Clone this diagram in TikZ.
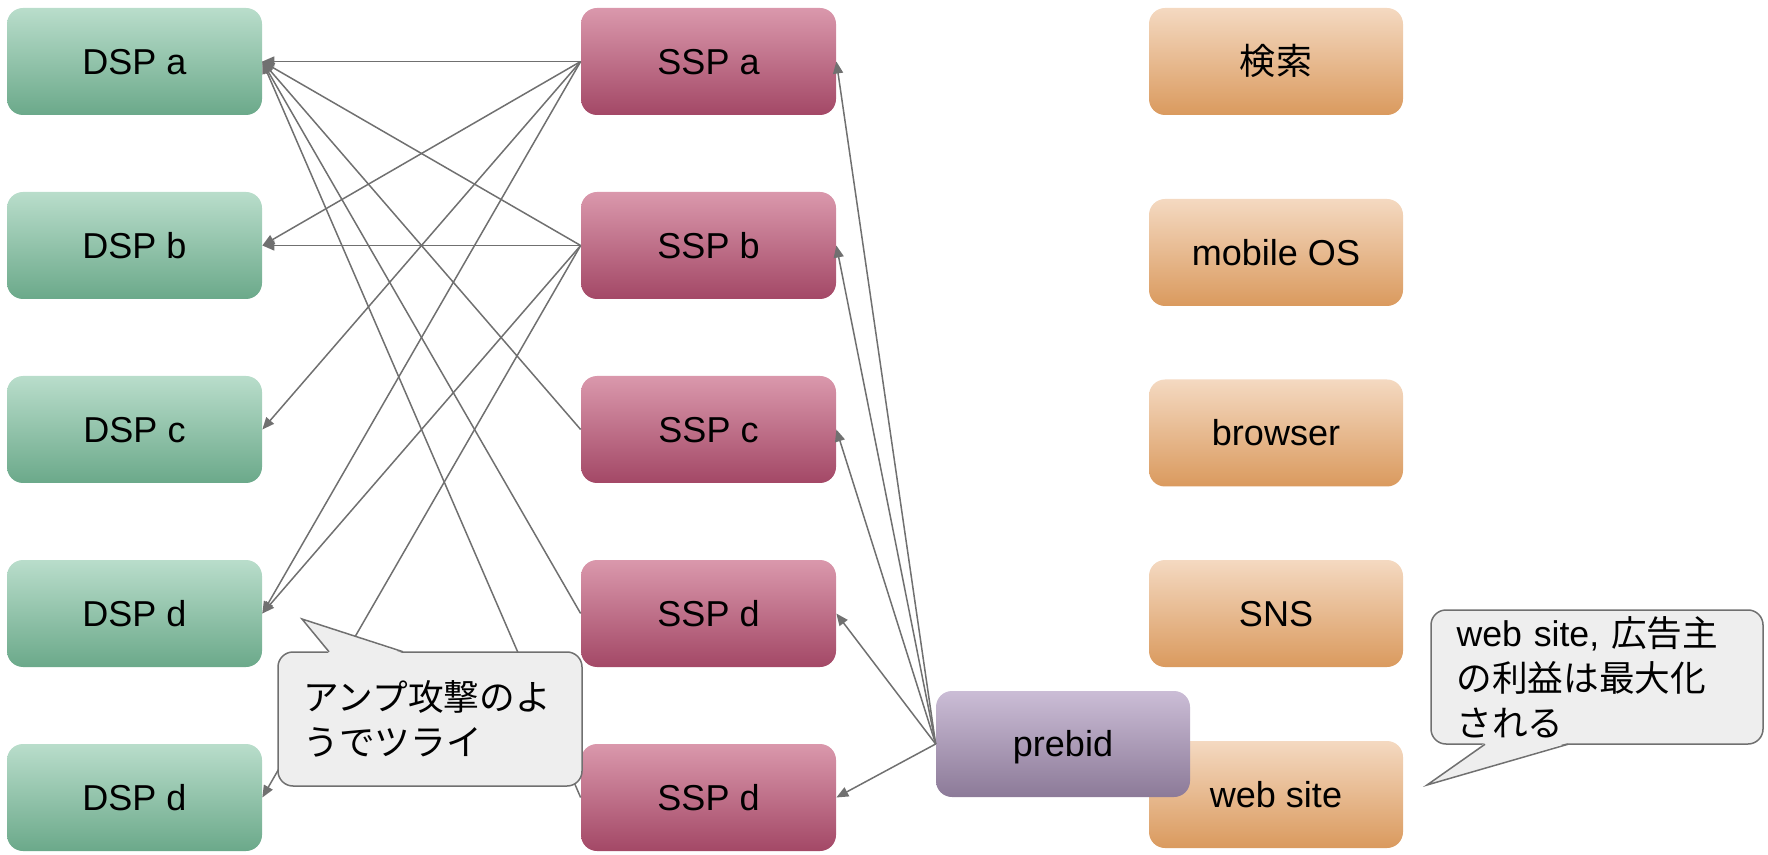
\documentclass[tikz,border=0pt]{standalone}
\usepackage{fontspec}
\setmainfont{Liberation Sans}
\newfontfamily\jp{Noto Sans CJK JP}
\usetikzlibrary{arrows.meta,calc}
\definecolor{dsptop}{RGB}{185,221,203}
\definecolor{dspbot}{RGB}{107,169,138}
\definecolor{ssptop}{RGB}{218,152,172}
\definecolor{sspbot}{RGB}{163,72,102}
\definecolor{mediatop}{RGB}{244,217,193}
\definecolor{mediabot}{RGB}{218,154,94}
\definecolor{hbtop}{RGB}{203,189,214}
\definecolor{hbbot}{RGB}{140,122,152}
\definecolor{wire}{RGB}{112,112,112}
\definecolor{notefill}{RGB}{238,238,238}

\begin{document}
\begin{tikzpicture}[node distance=36.8mm,
    block/.style={rectangle, rounded corners=3.2mm, minimum width=51mm, minimum height=21.4mm, inner sep=0pt, text height=14.7pt, text depth=0pt, font=\fontsize{20.5pt}{24pt}\selectfont},
    dsp/.style={block, top color=dsptop, bottom color=dspbot},
    ssp/.style={block, top color=ssptop, bottom color=sspbot},
    media/.style={block, minimum width=50.8mm, top color=mediatop, bottom color=mediabot},
    wirearrow/.style={-{Triangle[length=2.4mm, width=2mm]}, color=wire, line width=0.3mm},
    note/.style={rectangle, rounded corners=3mm, draw=wire, fill=notefill, line width=0.3mm, minimum height=26.8mm, inner xsep=5.1mm, inner ysep=0.5mm, align=left, font=\fontsize{20.3pt}{25.5pt}\selectfont}]

    \useasboundingbox (0,0) rectangle (353.6mm,-171mm);

    \node[dsp] (dspa) at (26.9mm,-12.3mm) {DSP a};
    \node[dsp, below of=dspa] (dspb) {DSP b};
    \node[dsp, below of=dspb] (dspc) {DSP c};
    \node[dsp, below of=dspc] (dspd) {DSP d};
    \node[dsp, below of=dspd] (dspe) {DSP d};

    \node[ssp, right of=dspa, node distance=114.8mm] (sspa) {SSP a};
    \node[ssp, below of=sspa] (sspb) {SSP b};
    \node[ssp, below of=sspb] (sspc) {SSP c};
    \node[ssp, below of=sspc] (sspd) {SSP d};
    \node[ssp, below of=sspd] (sspe) {SSP d};

    \node[media, right of=sspa, node distance=113.5mm] (search) {\jp 検索};
    \node[media, below of=search, node distance=38.2mm] (mobile) {mobile OS};
    \node[media, below of=mobile, node distance=36.1mm] (browser) {browser};
    \node[media, below of=browser, node distance=36.1mm] (sns) {SNS};
    \node[media, below of=sns, node distance=36.2mm] (site) {web site};
    \node[block, minimum width=50.8mm, minimum height=21.2mm, top color=hbtop, bottom color=hbbot] (prebid) at (212.6mm,-148.8mm) {prebid};

    \draw[wirearrow] (sspa.west) -- (dspa.east);
    \draw[wirearrow] (sspa.west) -- (dspb.east);
    \draw[wirearrow] (sspa.west) -- (dspc.east);
    \draw[wirearrow] (sspa.west) -- (dspd.east);
    \draw[wirearrow] (sspb.west) -- (dspa.east);
    \draw[wirearrow] (sspb.west) -- (dspb.east);
    \draw[wirearrow] (sspb.west) -- (dspd.east);
    \draw[wirearrow] (sspb.west) -- (dspe.east);
    \draw[wirearrow] (sspc.west) -- (dspa.east);
    \draw[wirearrow] (sspd.west) -- (dspa.east);
    \draw[wirearrow] (sspe.west) -- (dspa.east);

    \draw[wirearrow] (prebid.west) -- (sspa.east);
    \draw[wirearrow] (prebid.west) -- (sspb.east);
    \draw[wirearrow] (prebid.west) -- (sspc.east);
    \draw[wirearrow] (prebid.west) -- (sspd.east);
    \draw[wirearrow] (prebid.west) -- (sspe.east);

    \node[note, text width=50.6mm] (amp) at (86mm,-143.8mm) {\jp アンプ攻撃のよ\\うでツライ};
    \fill[notefill] ($(amp.north)+(-20.2mm,-0.4mm)$) -- ($(amp.center)+(-25.6mm,20mm)$) -- ($(amp.north)+(-5.4mm,-0.4mm)$) -- cycle;
    \draw[wire, line width=0.3mm] ($(amp.north)+(-20.2mm,-0.1mm)$) -- ($(amp.center)+(-25.6mm,20mm)$) -- ($(amp.north)+(-5.4mm,-0.1mm)$);

    \node[note, text width=56.2mm] (benefit) at (319.4mm,-135.4mm) {web site, {\jp 広告主}\\{\jp の利益は最大化}\\{\jp される}};
    \fill[notefill] ($(benefit.south)+(-22.4mm,0.4mm)$) -- ($(benefit.center)+(-34mm,-21.6mm)$) -- ($(benefit.south)+(-5.8mm,0.4mm)$) -- cycle;
    \draw[wire, line width=0.3mm] ($(benefit.south)+(-22.4mm,0.1mm)$) -- ($(benefit.center)+(-34mm,-21.6mm)$) -- ($(benefit.south)+(-5.8mm,0.1mm)$);

\end{tikzpicture}
\end{document}
